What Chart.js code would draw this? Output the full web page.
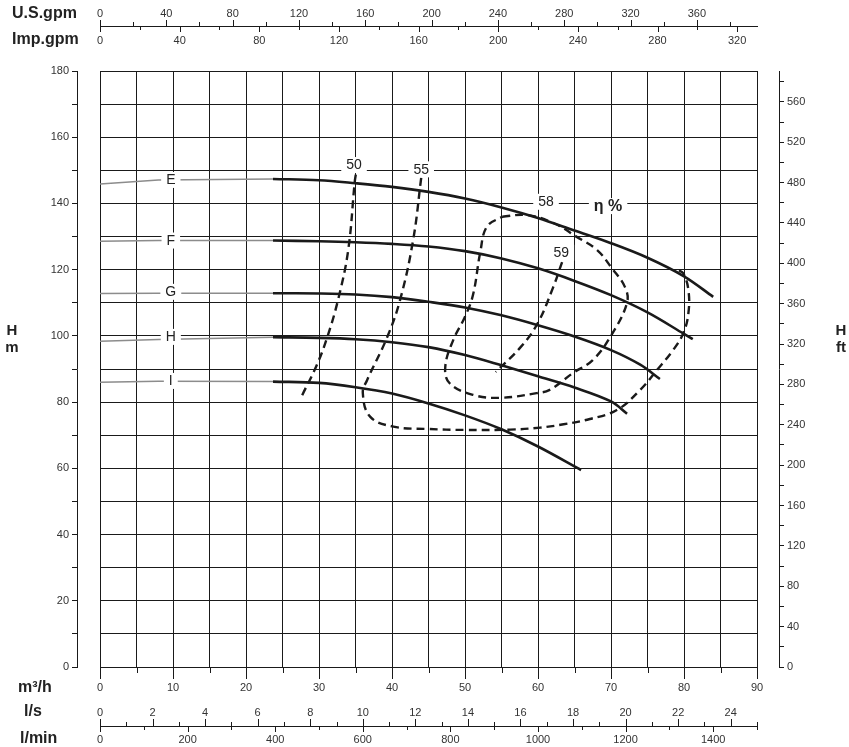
<!DOCTYPE html>
<html>
<head>
<meta charset="utf-8">
<script src="https://cdn.jsdelivr.net/npm/chart.js@4.4.1/dist/chart.umd.min.js"></script>
<style>
  html, body { margin: 0; padding: 0; background: #fff; }
  canvas { display: block; }
</style>
</head>
<body>
<canvas id="pump" width="849" height="747"></canvas>
<script>
// flow Q in m3/h, head H in m
const curveNames = ['E', 'F', 'G', 'H', 'I'];

const curveE_q = [23.7, 30, 35, 40, 45, 50, 55, 60, 65, 70, 75, 80, 84];
const curveE_h = [147.4, 147.0, 146.1, 145.0, 143.5, 141.5, 138.8, 135.6, 131.8, 128.0, 123.6, 118.0, 111.8];
const curveF_q = [23.7, 30, 35, 40, 45, 50, 55, 60, 65, 70, 75, 80, 81.2];
const curveF_h = [128.8, 128.6, 128.3, 127.8, 127.0, 125.6, 123.4, 120.4, 116.6, 112.3, 107.1, 100.6, 99.0];
const curveG_q = [23.7, 30, 35, 40, 45, 50, 55, 60, 65, 70, 74, 76.7];
const curveG_h = [112.9, 112.8, 112.5, 111.7, 110.3, 108.6, 106.2, 103.2, 99.8, 95.7, 91.3, 87.0];
const curveH_q = [23.7, 30, 35, 40, 45, 50, 55, 60, 65, 70, 72.2];
const curveH_h = [99.6, 99.4, 99.0, 98.1, 96.6, 94.2, 91.1, 87.8, 84.4, 80.2, 76.5];
const curveI_q = [23.7, 30, 35, 40, 45, 50, 55, 60, 65.9];
const curveI_h = [86.2, 85.8, 84.5, 82.6, 79.6, 76.0, 71.8, 66.6, 59.5];

// thin grey lead-in lines towards shut-off
const leadE_q = [0, 8, 23.7], leadE_h = [145.9, 147.1, 147.4];
const leadF_q = [0, 8, 23.7], leadF_h = [128.6, 128.8, 128.8];
const leadG_q = [0, 8, 23.7], leadG_h = [112.8, 112.9, 112.9];
const leadH_q = [0, 8, 23.7], leadH_h = [98.4, 98.9, 99.6];
const leadI_q = [0, 8, 23.7], leadI_h = [86.0, 86.3, 86.2];

// efficiency iso-lines (eta %)
const eff50_q = [27.7, 29.7, 31.1, 32.6, 34.0, 34.9, 35.1];
const eff50_h = [82.1, 91.2, 99.4, 110.8, 125.9, 146.6, 149.5];
const eff55_q = [44.0, 42.9, 41.1, 39.3, 36.6, 36.0, 37.0, 40.2, 44.8, 50.0, 56.2, 60.3, 63.5, 67.1, 70.8, 74.0, 76.3, 78.5, 79.9, 80.6, 80.6, 79.9, 79.2];
const eff55_h = [147.7, 129.0, 110.8, 99.4, 86.7, 82.8, 75.6, 72.6, 71.9, 71.6, 71.7, 72.3, 73.3, 74.9, 77.6, 83.7, 89.7, 95.7, 100.8, 106.8, 113.9, 118.9, 119.9];
const eff58_q = [55.1, 58.5, 62.1, 65.3, 68.1, 70.1, 71.9, 72.2, 69.9, 67.5, 64.8, 61.6, 59.8, 54.8, 51.1, 47.9, 47.3, 48.4, 50.0, 51.1, 52.1, 53.0, 55.1];
const eff58_h = [136.0, 136.5, 134.1, 129.9, 125.9, 120.5, 114.8, 110.0, 99.7, 92.7, 88.8, 83.7, 82.7, 81.3, 82.2, 85.7, 90.7, 98.8, 105.8, 112.4, 125.4, 133.0, 136.0];
const eff59_q = [63.3, 62.1, 59.9, 57.5, 54.2];
const eff59_h = [122.3, 114.8, 103.6, 96.3, 89.1];

// secondary axis tick labels
const usGpmTicks = [0, 40, 80, 120, 160, 200, 240, 280, 320, 360];
const impGpmTicks = [0, 40, 80, 120, 160, 200, 240, 280, 320];
const lsTicks = [0, 2, 4, 6, 8, 10, 12, 14, 16, 18, 20, 22, 24];
const lminTicks = [0, 200, 400, 600, 800, 1000, 1200, 1400];

const US_GPM = 4.40287, IMP_GPM = 3.66615, LS = 1 / 3.6, LMIN = 16.6667, FT = 3.28084;

const INK = '#1a1a1a';
const TXT = '#333';
const FONT = "'Liberation Sans', Arial, sans-serif";

function pts(q, h) {
  return q.map((v, i) => ({x: v, y: h[i]}));
}

const datasets = [];
[[leadE_q, leadE_h], [leadF_q, leadF_h], [leadG_q, leadG_h], [leadH_q, leadH_h], [leadI_q, leadI_h]].forEach(l => {
  datasets.push({data: pts(l[0], l[1]), borderColor: '#8c8c8c', borderWidth: 1.5, tension: 0});
});
[[curveE_q, curveE_h], [curveF_q, curveF_h], [curveG_q, curveG_h], [curveH_q, curveH_h], [curveI_q, curveI_h]].forEach(c => {
  datasets.push({data: pts(c[0], c[1]), borderColor: INK, borderWidth: 2.6, tension: 0.35});
});
[[eff50_q, eff50_h], [eff55_q, eff55_h], [eff58_q, eff58_h], [eff59_q, eff59_h]].forEach(e => {
  datasets.push({data: pts(e[0], e[1]), borderColor: INK, borderWidth: 2.4, borderDash: [8, 5], tension: 0.4});
});
datasets.forEach(d => { d.showLine = true; d.pointRadius = 0; d.xAxisID = 'x'; d.yAxisID = 'y'; d.fill = false; });

// labels placed on the plot (data coordinates)
const curveLabels = [
  {t: 'E', q: 9.7, h: 147.1}, {t: 'F', q: 9.7, h: 128.8}, {t: 'G', q: 9.7, h: 113.3},
  {t: 'H', q: 9.7, h: 99.7}, {t: 'I', q: 9.7, h: 86.4},
  {t: '50', q: 34.8, h: 151.6}, {t: '55', q: 44.0, h: 150.3},
  {t: '58', q: 61.1, h: 140.5}, {t: '59', q: 63.2, h: 125.1},
  {t: 'η %', q: 69.6, h: 139.2, bold: true}
];

function crisp(v) { return Math.round(v) + 0.5; }

const extraAxes = {
  id: 'extraAxes',
  afterDatasetsDraw(chart) {
    const ctx = chart.ctx, xs = chart.scales.x, ys = chart.scales.y;
    ctx.save();
    ctx.textAlign = 'center';
    ctx.textBaseline = 'middle';
    curveLabels.forEach(l => {
      ctx.font = (l.bold ? 'bold 16px ' : '14px ') + FONT;
      const px = xs.getPixelForValue(l.q), py = ys.getPixelForValue(l.h);
      const w = ctx.measureText(l.t).width + 10;
      ctx.fillStyle = '#fff';
      ctx.fillRect(px - w / 2, py - 8, w, 16);
      ctx.fillStyle = '#222';
      ctx.fillText(l.t, px, py + 0.5);
    });
    ctx.restore();
  },
  afterDraw(chart) {
    const ctx = chart.ctx, xs = chart.scales.x, area = chart.chartArea;
    const X = q => xs.getPixelForValue(q);
    ctx.save();
    ctx.strokeStyle = INK;
    ctx.lineWidth = 1;
    const tick = (x, y1, y2) => { ctx.beginPath(); ctx.moveTo(crisp(x), y1); ctx.lineTo(crisp(x), y2); ctx.stroke(); };
    const hline = y => { ctx.beginPath(); ctx.moveTo(X(0), crisp(y)); ctx.lineTo(X(90) + 1, crisp(y)); ctx.stroke(); };

    // m3/h tick marks
    for (let q = 0; q <= 90; q += 5) tick(X(q), area.bottom, area.bottom + (q % 10 === 0 ? 12 : 6));

    // top: U.S.gpm above, Imp.gpm below
    const topY = 26;
    hline(topY);
    for (let g = 0; g <= 380; g += 20) tick(X(g / US_GPM), topY + 0.5, topY - (g % 40 === 0 ? 6 : 4));
    for (let g = 0; g <= 320; g += 20) tick(X(g / IMP_GPM), topY + 0.5, topY + (g % 40 === 0 ? 6 : 4));

    // bottom: l/s above, l/min below
    const botY = 726;
    hline(botY);
    for (let s = 0; s <= 25; s += 1) tick(X(s / LS), botY + 0.5, botY - (s % 2 === 0 ? 7 : 4));
    for (let m = 0; m <= 1500; m += 100) tick(X(m / LMIN), botY + 0.5, botY + (m % 200 === 0 ? 6 : 4));

    ctx.fillStyle = TXT;
    ctx.font = '11px ' + FONT;
    ctx.textAlign = 'center';
    ctx.textBaseline = 'middle';
    usGpmTicks.forEach(g => ctx.fillText(g, X(g / US_GPM), 14));
    impGpmTicks.forEach(g => ctx.fillText(g, X(g / IMP_GPM), 41));
    lsTicks.forEach(s => ctx.fillText(s, X(s / LS), 713));
    lminTicks.forEach(m => ctx.fillText(m, X(m / LMIN), 740));

    // unit titles
    ctx.fillStyle = '#222';
    ctx.font = 'bold 16px ' + FONT;
    ctx.textAlign = 'left';
    ctx.fillText('U.S.gpm', 12, 14);
    ctx.fillText('Imp.gpm', 12, 40);
    ctx.fillText('m³/h', 18, 688);
    ctx.fillText('l/s', 24, 712);
    ctx.fillText('l/min', 20, 739);
    ctx.textAlign = 'center';
    ctx.font = 'bold 15px ' + FONT;
    ctx.fillText('H', 12, 331);
    ctx.fillText('m', 12, 348);
    ctx.fillText('H', 841, 331);
    ctx.fillText('ft', 841, 348);
    ctx.restore();
  }
};

const tickFont = {family: FONT, size: 11};

new Chart(document.getElementById('pump'), {
  type: 'scatter',
  data: {datasets: datasets},
  options: {
    responsive: false,
    animation: false,
    layout: {padding: {top: 71, left: 0, right: 0, bottom: 0}},
    plugins: {legend: {display: false}, tooltip: {enabled: false}},
    scales: {
      x: {
        type: 'linear', position: 'bottom', min: 0, max: 90,
        ticks: {stepSize: 5, autoSkip: false, maxRotation: 0, padding: 14, color: TXT, font: tickFont,
          callback: v => (v % 10 === 0 ? v : '')},
        grid: {color: INK, lineWidth: 1, drawTicks: false},
        border: {display: true, color: INK, width: 1},
        afterFit: s => { s.height = 80; }
      },
      y: {
        type: 'linear', axis: 'y', position: 'left', weight: 0, min: 0, max: 180,
        ticks: {stepSize: 10, display: false},
        grid: {color: INK, lineWidth: 1, drawTicks: false},
        border: {display: false},
        afterFit: s => { s.width = 23; }
      },
      yM: {
        type: 'linear', axis: 'y', position: 'left', weight: 1, min: 0, max: 180,
        ticks: {stepSize: 10, padding: 3, color: TXT, font: tickFont, callback: v => (v % 20 === 0 ? v : '')},
        grid: {drawOnChartArea: false, drawTicks: true, tickLength: 5, color: INK},
        border: {display: true, color: INK, width: 1},
        afterFit: s => { s.width = 77; }
      },
      yR: {
        type: 'linear', axis: 'y', position: 'right', weight: 0, min: 0, max: 180,
        ticks: {display: false},
        grid: {display: false},
        border: {display: false},
        afterFit: s => { s.width = 22; }
      },
      yFt: {
        type: 'linear', axis: 'y', position: 'right', weight: 1, min: 0, max: 180 * FT,
        ticks: {stepSize: 20, includeBounds: false, padding: 3, color: TXT, font: tickFont,
          callback: v => (v % 40 === 0 ? v : '')},
        grid: {drawOnChartArea: false, drawTicks: true, tickLength: 5, color: INK},
        border: {display: true, color: INK, width: 1},
        afterFit: s => { s.width = 70; }
      }
    }
  },
  plugins: [extraAxes]
});
</script>
</body>
</html>
